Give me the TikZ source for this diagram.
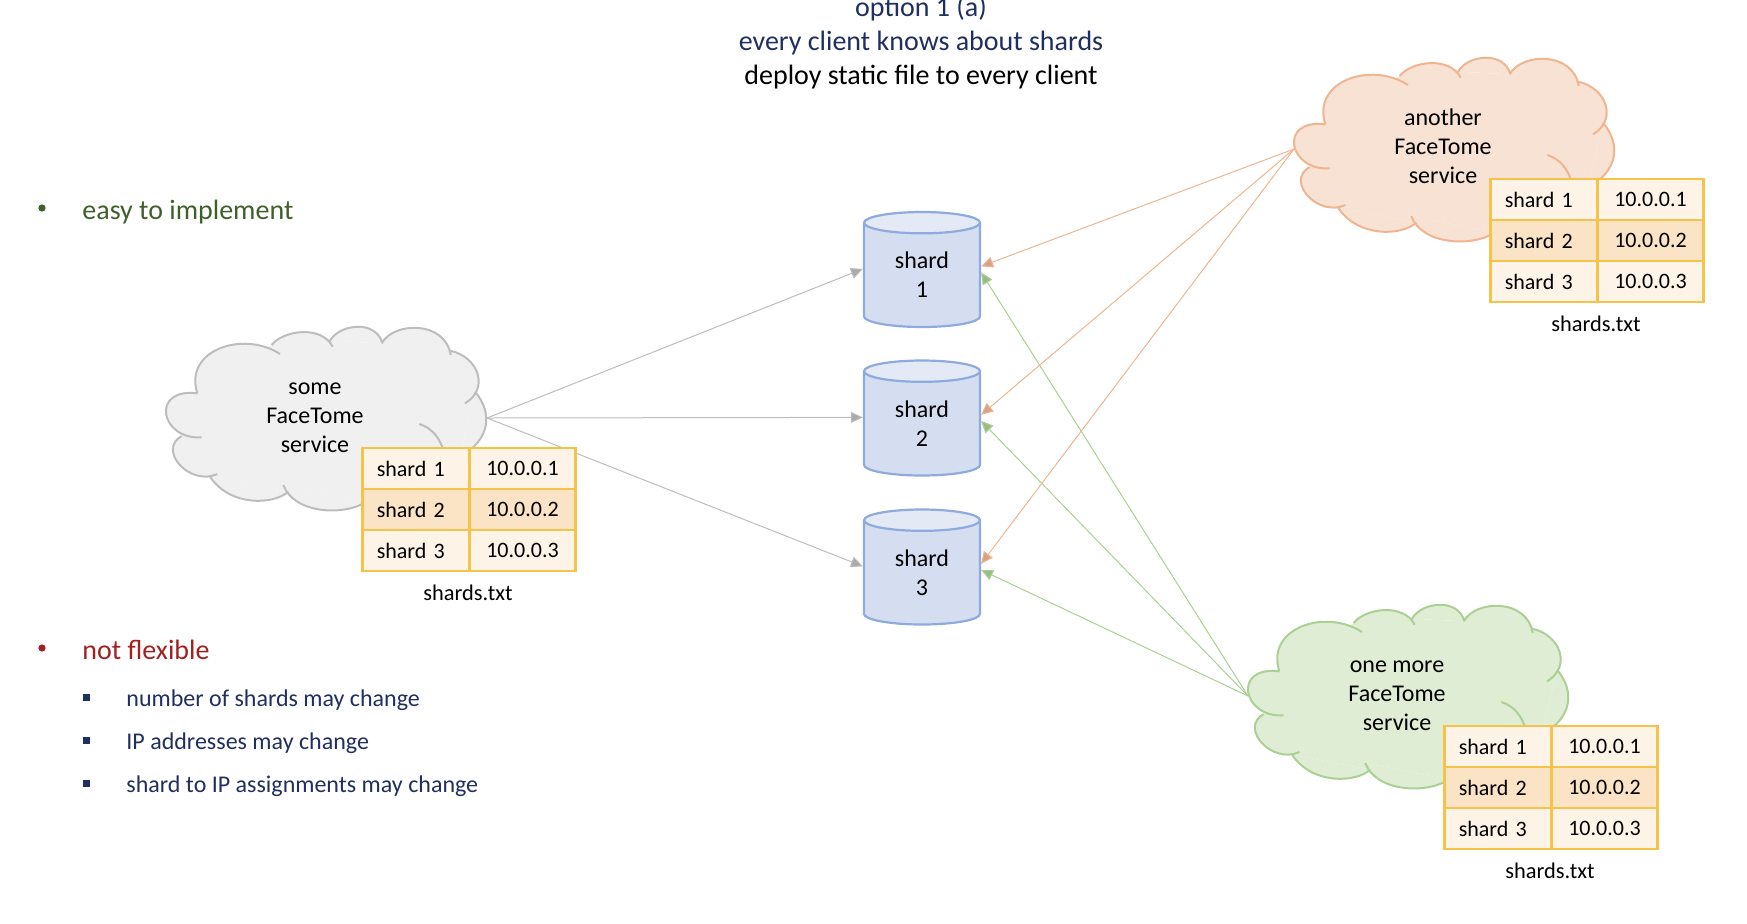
\documentclass[tikz,border=0pt]{standalone}
\usepackage{fontspec}
\setmainfont{Carlito}
\usetikzlibrary{arrows.meta,backgrounds,shapes.geometric}
\definecolor{navytext}{HTML}{1F2F60}
\definecolor{greentext}{HTML}{3F5F2B}
\definecolor{redtext}{HTML}{A32020}
\definecolor{cellpale}{HTML}{FDF3E6}
\definecolor{cellmid}{HTML}{FBE3C5}
\definecolor{cellline}{HTML}{F5C24A}
\definecolor{cylline}{HTML}{8FAADC}
\definecolor{cylbody}{HTML}{D5DEF0}
\definecolor{cyltop}{HTML}{E3E9F5}
\definecolor{graycloud}{HTML}{F0F0F0}
\definecolor{grayline}{HTML}{BDBDBD}
\definecolor{orangecloud}{HTML}{F8E2D4}
\definecolor{orangeline}{HTML}{EFB590}
\definecolor{greencloud}{HTML}{E0EDD5}
\definecolor{greenline}{HTML}{ABD093}
\tikzset{
  shardcyl/.style={cylinder,shape border rotate=90,aspect=1.6,draw=cylline,line width=1.1pt,
    cylinder uses custom fill,cylinder body fill=cylbody,cylinder end fill=cyltop,
    minimum width=58pt,minimum height=57.5pt,anchor=shape center},
  shardtext/.style={align=center,inner sep=0pt,font=\fontsize{12}{14.5}\selectfont},
  cellbox/.style={draw=cellline,line width=1.4pt,minimum height=20.5pt,inner sep=0pt,font=\fontsize{11}{13}\selectfont},
  shardcell/.style={cellbox,text width=39.25pt,inner xsep=7pt,minimum width=53.25pt,align=left},
  ipcell/.style={cellbox,minimum width=53.25pt,align=center},
  servicetext/.style={align=center,font=\fontsize{12}{14.5}\selectfont},
  listtext/.style={anchor=west,inner sep=0pt,text=navytext,font=\fontsize{12}{14}\selectfont},
  headtext/.style={inner sep=0pt,font=\fontsize{14}{17}\selectfont},
  arrowline/.style={line width=0.5pt,draw=#1,-{Triangle[length=6pt,width=5.5pt,fill=#1!90!black]}}
}
\newcommand{\cloudcore}{
  (125,408) -- (172,280) -- (395,135) -- (570,122) -- (725,130) -- (930,152) -- (1005,275)
  -- (960,470) -- (680,605) -- (430,555) -- (445,575) -- (210,530) -- cycle
}
\newcommand{\cloudlobes}{
  (185,412) .. controls (60,420) and (30,262) .. (172,280)
  (172,280) .. controls (130,150) and (310,90) .. (420,162)
  (395,135) .. controls (430,90) and (545,75) .. (578,140)
  (570,122) .. controls (600,70) and (710,60) .. (727,130)
  (725,130) .. controls (760,65) and (915,60) .. (932,165)
  (930,152) .. controls (1015,170) and (1050,265) .. (975,310)
  (1005,275) .. controls (1060,340) and (1050,420) .. (960,470)
  (430,555) .. controls (460,640) and (610,650) .. (680,605)
  (445,575) .. controls (400,615) and (270,620) .. (210,530)
  (232,522) .. controls (150,560) and (50,450) .. (125,408)
  (838,372) .. controls (880,385) and (900,420) .. (908,445)
}
\begin{document}
\begin{tikzpicture}[x=0.5pt,y=-0.5pt]
\useasboundingbox (0,0) rectangle (1747,923);
% title
\node[headtext,text=navytext] (title1) at (921,9) {option 1 (a)};
\node[headtext,text=navytext] (title2) at (921,43) {every client knows about shards};
\node[headtext] (title3) at (921,77) {deploy static file to every client};
% left hand list
\node[listtext,font=\fontsize{14}{17}\selectfont,text=greentext] (easy) at (82,212) {easy to implement};
\node[listtext,font=\fontsize{14}{17}\selectfont,text=redtext] (flex) at (82,650) {not flexible};
\fill[greentext] (42,208) circle (3.6);
\fill[redtext] (42,648) circle (3.6);
\foreach \y/\lab in {697/{number of shards may change}, 740/{IP addresses may change}, 783/{shard to IP assignments may change}} {
  \node[listtext] at (126,\y+3) {\lab};
  \fill[navytext] (82.5,\y-3.5) rectangle (90,\y+3.5);
}
% shards
\foreach \n/\y in {1/269.5, 2/418, 3/567} {
  \node[shardcyl] (shard\n) at (922,\y) {};
  \node[shardtext] (shardlabel\n) at (922,\y+5.5) {shard\\\n};
}
% services, each with its own copy of the table
\foreach \cl/\dx/\dy/\ty/\fillc/\linec/\lab in {some/0/0/418/graycloud/grayline/some, another/1128/-269/415/orangecloud/orangeline/another, more/1082/278/418/greencloud/greenline/one more} {
  \begin{scope}[shift={(\dx,\dy)}]
    \begin{scope}[shift={(140,300)},x=0.16667pt,y=-0.16667pt]
      \fill[\fillc] \cloudcore;
      \filldraw[fill=\fillc,draw=\linec,line width=1pt] \cloudlobes;
    \end{scope}
    \coordinate (\cl-righttip) at (487,418);
    \coordinate (\cl-lefttip) at (166,418);
    \node[servicetext] (\cl-text) at (315,\ty) {\lab\\FaceTome\\service};
    \foreach \r/\ip/\c in {1/10.0.0.1/cellpale, 2/10.0.0.2/cellmid, 3/10.0.0.3/cellpale} {
      \node[shardcell,fill=\c] (\cl-s\r) at (416,448+41*\r-20.5) {shard \r};
      \node[ipcell,fill=\c] (\cl-ip\r) at (522.5,448+41*\r-20.5) {\ip};
    }
    \node[font=\fontsize{11.2}{13}\selectfont] (\cl-file) at (468,593) {shards.txt};
  \end{scope}
}
% requests go underneath the tables
\begin{scope}[on background layer]
\foreach \n in {1,2,3} {
  \draw[arrowline=grayline] (some-righttip) -- ([yshift=4.5pt]shard\n.west);
  \draw[arrowline=orangeline] (another-lefttip) -- ([yshift=5.75pt]shard\n.east);
  \draw[arrowline=greenline] (more-lefttip) -- ([yshift=2.75pt]shard\n.east);
}
\end{scope}
\end{tikzpicture}
\end{document}
